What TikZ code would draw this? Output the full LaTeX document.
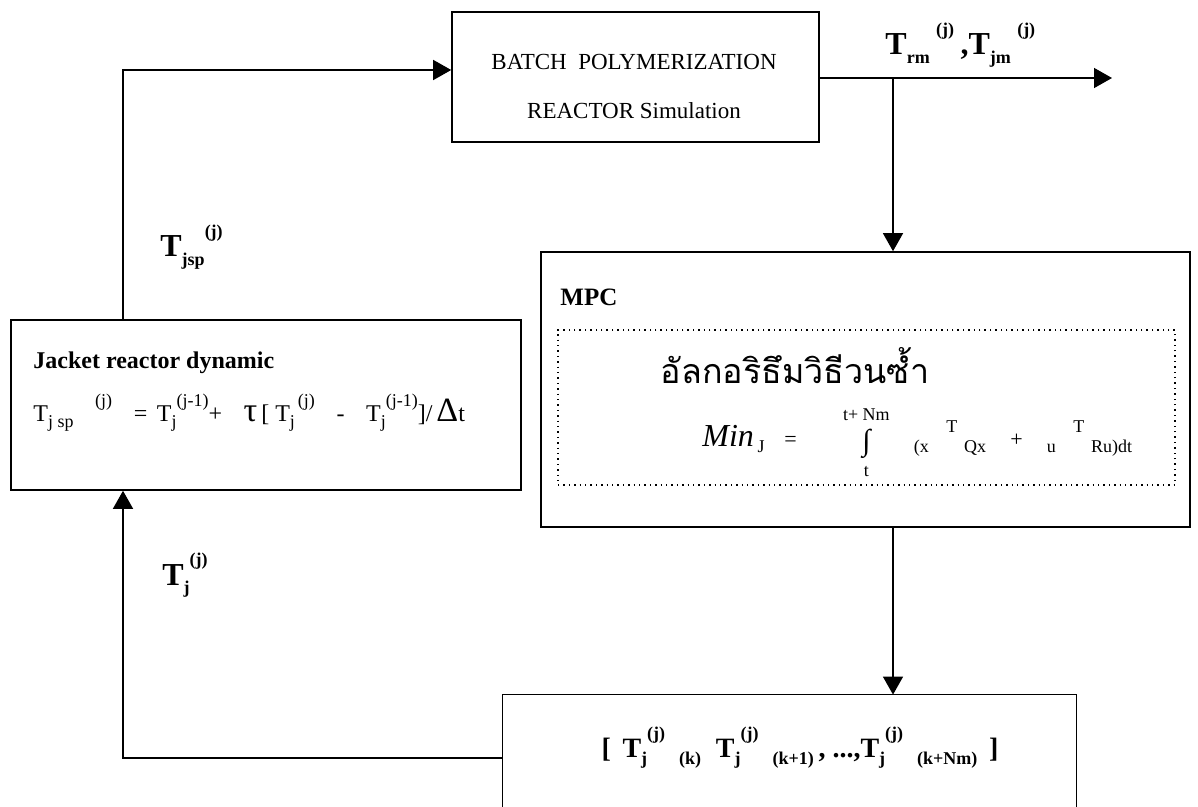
\documentclass[tikz,border=0pt]{standalone}
\usepackage{fontspec}
\setmainfont{Liberation Serif}
\newfontfamily\thaifont[Script=Thai]{Loma}
\usetikzlibrary{arrows.meta,positioning}

% loose sub/superscripts, set the way the scan shows them
\newcommand{\lo}[1]{\raisebox{-0.6ex}{\fontsize{9}{9}\selectfont #1}}
\newcommand{\hi}[1]{\raisebox{1.35ex}{\fontsize{9}{9}\selectfont #1}}

\tikzset{
  blk/.style={draw, line width=0.8pt, inner sep=0pt},
  dotbox/.style={draw, dotted, line width=0.7pt, inner sep=0pt},
  lnk/.style={line width=0.7pt},
  arr/.style={lnk, -{Triangle[length=9pt,width=10pt]}},
  lbl/.style={inner sep=0pt, anchor=base west},
}

\begin{document}
\begin{tikzpicture}[x=0.5pt, y=-0.5pt]
  \useasboundingbox (0,0) rectangle (1198,807);

  % -- Blocks --
  \node[blk, minimum width=183.5pt, minimum height=65pt] (batch) at (635.5,77) {};
  \node[blk, minimum width=324.5pt, minimum height=137.5pt] (mpc) at (865.5,389.5) {};
  \node[dotbox, minimum width=308.5pt, minimum height=77.5pt] (algobox) at (866.5,407.5) {};
  \node[blk, minimum width=255pt, minimum height=85pt] (jacket) at (266,405) {};
  \node[inner sep=0pt, minimum width=286.5pt, minimum height=63pt] (seq) at (789.5,758) {};
  \draw[line width=0.8pt] (seq.south west) |- (seq.north east) -- (seq.south east);

  % -- Texts in the blocks --
  \node (batchtop) at (634,62) {\fontsize{11.5}{12}\selectfont BATCH\ \ POLYMERIZATION};
  \node (batchbot) at (634,111) {\fontsize{11.5}{12}\selectfont REACTOR Simulation};

  \node[lbl] (mpclbl) at (560,306) {\bfseries\fontsize{12.5}{13}\selectfont MPC};
  \node (algo) at (795,366) {\thaifont\fontsize{17}{18}\selectfont อัลกอริธึมวิธีวนซ้ำ};
  \node[lbl] (cost) at (702,446) {\fontsize{11}{12}\selectfont
    {\itshape\fontsize{16}{16}\selectfont Min}\,\lo{J}\hspace{0.9em}=\hspace{2.1em}%
    \raisebox{-0.3ex}{\begin{tabular}{@{}c@{}}\fontsize{9}{9}\selectfont t+\ Nm\\[1pt]%
      {\fontsize{15}{15}\selectfont ∫}\\[1pt]\fontsize{9}{9}\selectfont t\end{tabular}}%
    \hspace{1.1em}\lo{(x}\hspace{0.8em}\hi{T}\hspace{0.3em}\lo{Qx}\hspace{1.1em}+\hspace{1.1em}%
    \lo{u}\hspace{0.8em}\hi{T}\hspace{0.3em}\lo{Ru)dt}};

  \node[lbl] (jtitle) at (33,368) {\bfseries\fontsize{12}{13}\selectfont Jacket reactor dynamic};
  \node[lbl] (jlaw) at (33,421) {\fontsize{12}{13}\selectfont
    T\lo{j sp}\hspace{0.9em}\hi{(j)}\hspace{0.9em}=\hspace{0.4em}T\lo{j}\hi{(j-1)}+\hspace{0.9em}%
    {\fontsize{17}{17}\selectfont τ}\,[ T\lo{j}\hi{\,(j)}\hspace{0.9em}-\hspace{0.9em}%
    T\lo{j}\hi{(j-1)}]/\,{\fontsize{17}{17}\selectfont Δ}t};

  \node (seqtxt) at (800,748) {\bfseries\fontsize{14}{15}\selectfont
    [\, T\lo{j}\hi{(j)}\hspace{0.5em}\lo{(k)}\; T\lo{j}\hi{(j)}\hspace{0.5em}\lo{(k+1)}\,,
    ...,T\lo{j}\hi{(j)}\hspace{0.5em}\lo{(k+Nm)}\, ]};

  % -- Signals --
  \coordinate (fb) at (123,70);
  \coordinate (tap) at (893,78);
  \coordinate (out) at (1112,78);

  \draw[arr] (jacket.north -| fb) -- (fb) -- (batch.west |- fb);
  \draw[arr] (batch.east |- out) -- (out);
  \draw[arr] (tap) -- (tap |- mpc.north);
  \draw[arr] (mpc.south -| tap) -- (seq.north -| tap);
  \draw[arr] (seq.west) -| (jacket.south -| fb);

  % -- Signal labels --
  \node[lbl] (tout) at (885,55) {\bfseries\fontsize{16}{16}\selectfont
    T\lo{rm}\hspace{0.2em}\hi{(j)}\hspace{0.2em},T\lo{jm}\hspace{0.2em}\hi{(j)}};
  \node[lbl] (tsp) at (160,257) {\bfseries\fontsize{16}{16}\selectfont T\lo{jsp}\hi{(j)}};
  \node[lbl] (tj) at (162,585) {\bfseries\fontsize{16}{16}\selectfont T\lo{j}\hi{(j)}};

\end{tikzpicture}
\end{document}
